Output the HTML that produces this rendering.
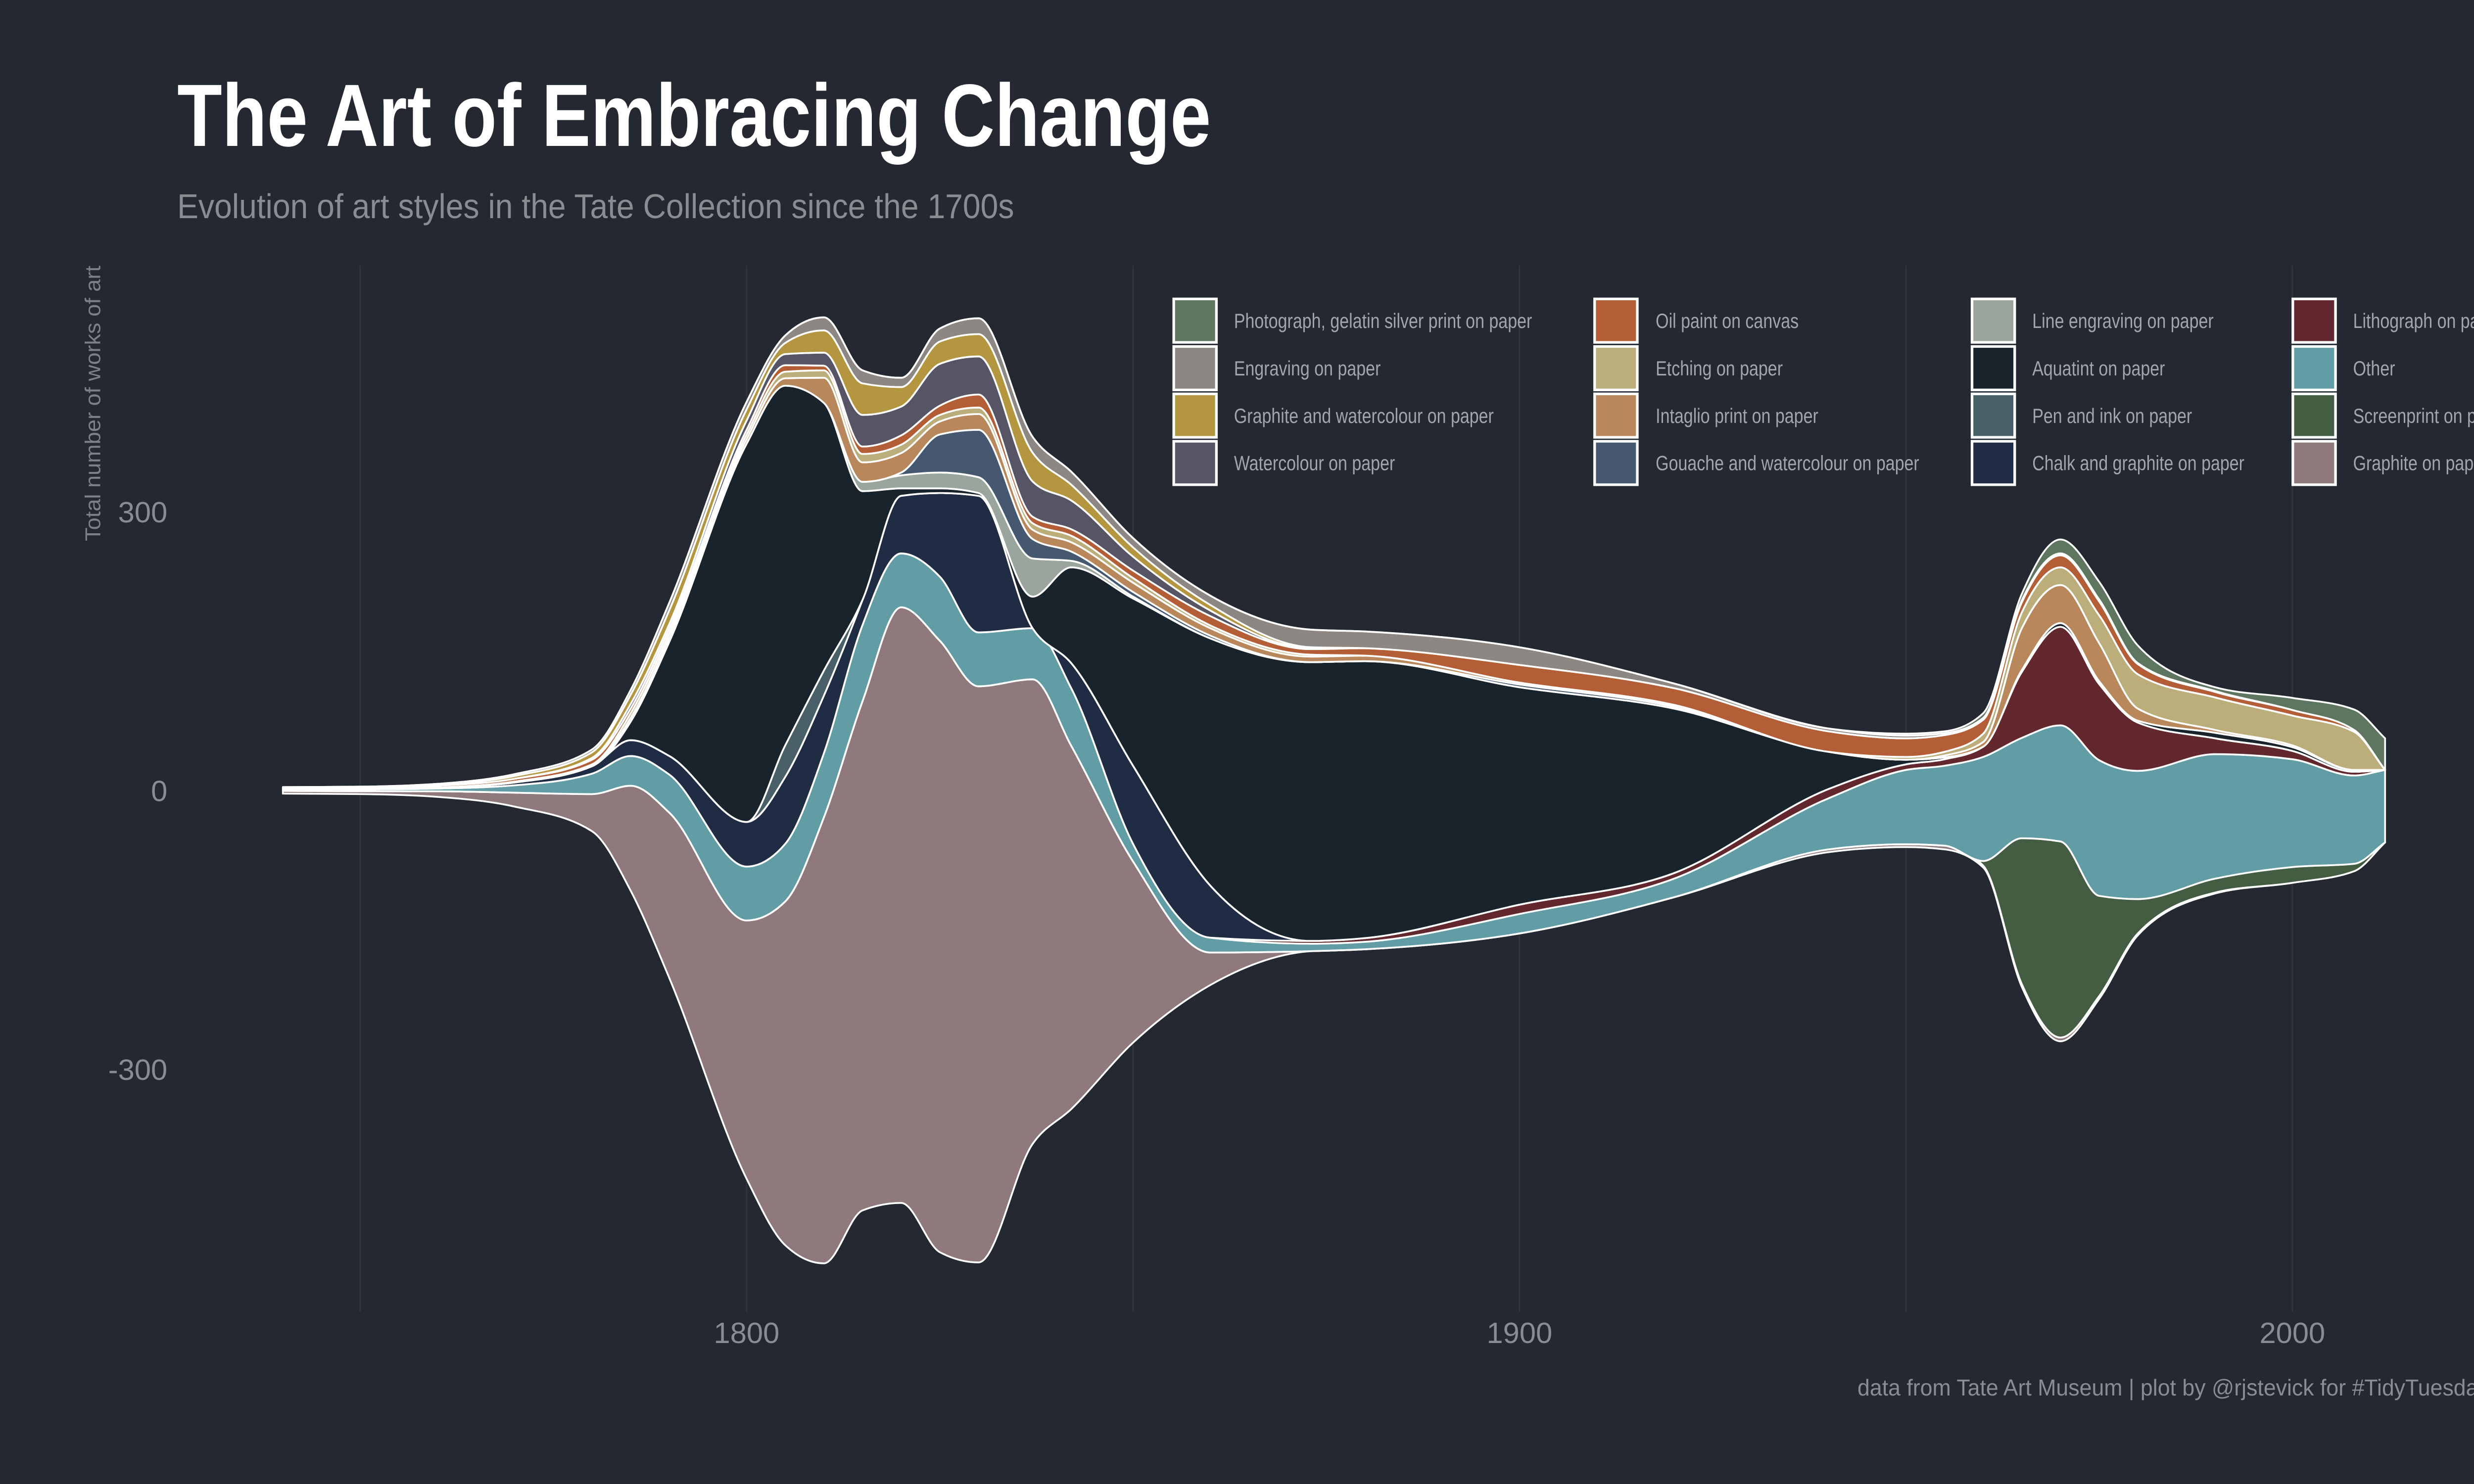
<!DOCTYPE html>
<html><head><meta charset="utf-8">
<style>
html,body{margin:0;padding:0;background:#242831;width:5200px;height:3000px;overflow:hidden;}
svg{display:block;}
text{font-family:"Liberation Sans",sans-serif;}
</style></head>
<body>
<svg id="chart" width="5200" height="3000" viewBox="0 0 5200 3000" xmlns="http://www.w3.org/2000/svg">
<rect x="0" y="0" width="5200" height="3000" fill="#242831"/>
<g id="root" transform="scale(3.3163,3.3149)">
  <g id="grid"></g>
  <g id="streams"></g>
  <text x="108" y="89" font-size="54" font-weight="bold" fill="#ffffff" textLength="630" lengthAdjust="spacingAndGlyphs">The Art of Embracing Change</text>
  <text x="108" y="133" font-size="21" fill="#8a8c92" textLength="510" lengthAdjust="spacingAndGlyphs">Evolution of art styles in the Tate Collection since the 1700s</text>
  <text transform="translate(61,246) rotate(-90)" text-anchor="middle" font-size="13" fill="#7d8087" textLength="168" lengthAdjust="spacingAndGlyphs">Total number of works of art</text>
  <g id="yticks"></g>
  <g id="xticks"></g>
  <g id="legend"></g>
  <text x="1517" y="851" text-anchor="end" font-size="14" fill="#8a8c92" textLength="385" lengthAdjust="spacingAndGlyphs">data from Tate Art Museum | plot by @rjstevick for #TidyTuesday</text>
</g>
</svg>
<script>
const years = [1740,1750,1760,1770,1780,1785,1790,1800,1805,1810,1815,1820,1825,1830,1837,1842,1850,1860,1873,1880,1900,1920,1940,1950,1955,1960,1965,1970,1975,1980,1990,2000,2008,2012];
const graphite = [3,3,6,15,40,113,178,278,370,480,548,641,658,620,500,391,195,35,0,0,0,0,3,3,4,2,3,4,3,2,1,0,0,0];
const screenprint = [0,0,0,0,0,0,0,0,0,0,0,0,0,0,0,0,0,0,0,0,0,0,0,0,0,5,157,211,108,37,15,17,8,0];
const other = [2,2,3,8,22,32,41,58,62,69,82,58,69,58,55,62,19,16,8,8,21,20,55,80,86,112,108,125,146,138,134,116,95,78];
const lithograph = [0,0,0,0,0,0,0,0,0,0,0,0,0,0,0,0,0,0,3,4,10,6,10,6,7,11,71,106,82,52,17,9,4,0];
const chalk = [0,0,1,3,8,17,20,48,72,62,27,62,90,147,0,27,84,56,0,0,0,0,0,0,0,0,0,0,0,0,0,0,0,0];
const penInk = [0,0,0,0,0,0,0,0,34,27,0,0,0,0,0,0,0,0,0,0,0,0,0,0,0,0,0,0,0,0,0,0,0,0];
const aquatint = [0,0,0,0,0,20,123,407,387,288,117,8,5,3,34,103,180,266,300,298,234,177,40,5,2,0,2,4,3,2,6,4,2,0];
const lineEngraving = [0,0,0,0,0,0,0,0,0,0,10,14,17,17,41,7,2,0,0,0,0,0,0,0,0,0,0,0,0,0,0,0,0,0];
const gouache = [0,0,0,0,0,0,0,0,0,0,0,3,41,51,21,10,5,3,0,0,3,2,0,0,0,0,0,0,0,0,0,0,0,0];
const intaglio = [0,0,0,0,1,4,4,5,8,27,21,21,14,17,10,10,10,8,6,6,2,2,0,0,2,5,45,41,41,13,3,2,0,0];
const etching = [0,0,0,1,1,5,5,5,7,8,9,9,7,7,7,7,5,3,2,0,0,0,0,3,4,9,17,19,30,37,35,32,41,0];
const oilPaint = [1,1,2,3,5,5,5,5,7,5,8,10,10,14,7,7,8,10,6,8,19,18,22,20,18,15,11,13,15,11,6,6,2,0];
const watercolour = [0,0,0,0,2,5,5,10,12,14,34,31,45,41,38,31,15,6,1,0,0,0,0,0,0,0,0,0,0,0,0,0,0,0];
const graphiteWatercolour = [1,1,1,3,6,10,15,12,12,24,34,21,24,24,31,17,10,6,1,0,0,0,0,0,0,0,0,0,0,0,0,0,0,0];
const engraving = [0,1,1,2,3,5,8,8,8,14,14,10,14,17,17,14,10,10,19,18,19,5,3,3,2,2,2,2,2,1,1,0,0,0];
const photograph = [0,0,0,0,0,0,0,0,0,0,0,0,0,0,0,0,0,0,0,0,0,0,0,2,2,5,7,15,19,19,4,13,22,34];
const yTickValues = [-300,0,300];
const yTickLabels = ["-300","0","300"];
const xTickValues = [1800,1900,2000];
const xTickLabels = ["1800","1900","2000"];
const gridYears = [1750,1800,1850,1900,1950,2000];

const NS = "http://www.w3.org/2000/svg";
const X = yr => 455 + (yr - 1800) * 4.71;
const Y = v => 482 - v * 0.5667;

const series = [
  {key:"graphite-on-paper", label:"Graphite on paper", color:"#8f797c", vals:graphite},
  {key:"screenprint-on-paper", label:"Screenprint on paper", color:"#435c42", vals:screenprint},
  {key:"other", label:"Other", color:"#629ca5", vals:other},
  {key:"lithograph-on-paper", label:"Lithograph on paper", color:"#63282e", vals:lithograph},
  {key:"chalk-and-graphite", label:"Chalk and graphite on paper", color:"#202c44", vals:chalk},
  {key:"pen-and-ink", label:"Pen and ink on paper", color:"#4a6068", vals:penInk},
  {key:"aquatint-on-paper", label:"Aquatint on paper", color:"#18232b", vals:aquatint},
  {key:"line-engraving", label:"Line engraving on paper", color:"#9aa69d", vals:lineEngraving},
  {key:"gouache-and-watercolour", label:"Gouache and watercolour on paper", color:"#455870", vals:gouache},
  {key:"intaglio-print", label:"Intaglio print on paper", color:"#b8875c", vals:intaglio},
  {key:"etching-on-paper", label:"Etching on paper", color:"#bcae7a", vals:etching},
  {key:"oil-paint-on-canvas", label:"Oil paint on canvas", color:"#b35e37", vals:oilPaint},
  {key:"watercolour-on-paper", label:"Watercolour on paper", color:"#575466", vals:watercolour},
  {key:"graphite-and-watercolour", label:"Graphite and watercolour on paper", color:"#b3963f", vals:graphiteWatercolour},
  {key:"engraving-on-paper", label:"Engraving on paper", color:"#8c8782", vals:engraving},
  {key:"photograph-gelatin-silver", label:"Photograph, gelatin silver print on paper", color:"#5e7560", vals:photograph}
];

function tangents(xs, ys){
  const n = xs.length, m = new Array(n).fill(0), s = [], h = [];
  for(let i=0;i<n-1;i++){h.push(xs[i+1]-xs[i]); s.push((ys[i+1]-ys[i])/h[i]);}
  m[0]=s[0]; m[n-1]=s[n-2];
  for(let i=1;i<n-1;i++){
    const s0=s[i-1], s1=s[i];
    if(s0*s1<=0){m[i]=0;continue;}
    const p=(s0*h[i]+s1*h[i-1])/(h[i-1]+h[i]);
    m[i]=(Math.sign(s0)+Math.sign(s1))*Math.min(Math.abs(s0),Math.abs(s1),0.5*Math.abs(p));
  }
  return m;
}
function forwardSegs(xs, ys){
  const m = tangents(xs, ys); let d = "";
  for(let i=0;i<xs.length-1;i++){
    const h=(xs[i+1]-xs[i])/3;
    d += ` C${(xs[i]+h).toFixed(2)},${(ys[i]+m[i]*h).toFixed(2)} ${(xs[i+1]-h).toFixed(2)},${(ys[i+1]-m[i+1]*h).toFixed(2)} ${xs[i+1].toFixed(2)},${ys[i+1].toFixed(2)}`;
  }
  return d;
}
function backwardSegs(xs, ys){
  const m = tangents(xs, ys); let d = "";
  for(let i=xs.length-1;i>0;i--){
    const h=(xs[i]-xs[i-1])/3;
    d += ` C${(xs[i]-h).toFixed(2)},${(ys[i]-m[i]*h).toFixed(2)} ${(xs[i-1]+h).toFixed(2)},${(ys[i-1]+m[i-1]*h).toFixed(2)} ${xs[i-1].toFixed(2)},${ys[i-1].toFixed(2)}`;
  }
  return d;
}

const grid = document.getElementById("grid");
gridYears.forEach(yr=>{
  const l = document.createElementNS(NS,"line");
  l.setAttribute("x1",X(yr)); l.setAttribute("x2",X(yr));
  l.setAttribute("y1",162); l.setAttribute("y2",800);
  l.setAttribute("stroke","#30353f"); l.setAttribute("stroke-width","0.8");
  
  
  grid.appendChild(l);
});

const totals = years.map((_,i)=>series.reduce((a,s)=>a+s.vals[i],0));
let base = totals.map(t=>-t/2);
const xs = years.map(X);
const streams = document.getElementById("streams");
series.forEach(s=>{
  const lower = base.slice();
  const upper = base.map((b,i)=>b+s.vals[i]);
  const yu = upper.map(Y), yl = lower.map(Y);
  const d = `M${xs[0].toFixed(2)},${yu[0].toFixed(2)}` + forwardSegs(xs,yu) +
            ` L${xs[xs.length-1].toFixed(2)},${yl[yl.length-1].toFixed(2)}` + backwardSegs(xs,yl) + " Z";
  const p = document.createElementNS(NS,"path");
  p.setAttribute("d",d);
  p.setAttribute("fill",s.color);
  p.setAttribute("stroke","#ffffff");
  p.setAttribute("stroke-width","1.1");
  p.setAttribute("stroke-linejoin","round");
  
  
  streams.appendChild(p);
  base = upper;
});

const yt = document.getElementById("yticks");
yTickValues.forEach((v,i)=>{
  const t = document.createElementNS(NS,"text");
  t.setAttribute("x",102); t.setAttribute("y",Y(v)+6.5);
  t.setAttribute("text-anchor","end"); t.setAttribute("font-size","18");
  t.setAttribute("fill","#8a8c92");
  t.textContent = yTickLabels[i];
  
  
  yt.appendChild(t);
});
const xt = document.getElementById("xticks");
xTickValues.forEach((v,i)=>{
  const t = document.createElementNS(NS,"text");
  t.setAttribute("x",X(v)); t.setAttribute("y",819);
  t.setAttribute("text-anchor","middle"); t.setAttribute("font-size","18");
  t.setAttribute("fill","#8a8c92");
  t.textContent = xTickLabels[i];
  
  
  xt.appendChild(t);
});

const legendOrder = ["photograph-gelatin-silver","oil-paint-on-canvas","line-engraving","lithograph-on-paper",
  "engraving-on-paper","etching-on-paper","aquatint-on-paper","other",
  "graphite-and-watercolour","intaglio-print","pen-and-ink","screenprint-on-paper",
  "watercolour-on-paper","gouache-and-watercolour","chalk-and-graphite","graphite-on-paper"];
const colX = [714.5,971,1201,1396.5], textX = [752,1009,1238.5,1434];
const rowY = [181.5,210.5,239.4,268.3];
const lg = document.getElementById("legend");
legendOrder.forEach((k,i)=>{
  const s = series.find(z=>z.key===k);
  const c = i%4, r = Math.floor(i/4);
  const g = document.createElementNS(NS,"g");
  
  
  const rect = document.createElementNS(NS,"rect");
  rect.setAttribute("x",colX[c]+0.8); rect.setAttribute("y",rowY[r]+0.8);
  rect.setAttribute("width",26); rect.setAttribute("height",26.5);
  rect.setAttribute("fill",s.color); rect.setAttribute("stroke","#ffffff"); rect.setAttribute("stroke-width","1.6");
  
  
  const t = document.createElementNS(NS,"text");
  t.setAttribute("transform", `translate(${textX[c]},${rowY[r]+18.5}) scale(0.82,1)`);
  t.setAttribute("font-size","12.5"); t.setAttribute("fill","#a3a5aa");
  t.textContent = s.label;
  
  
  g.appendChild(rect); g.appendChild(t); lg.appendChild(g);
});
</script>
</body></html>
